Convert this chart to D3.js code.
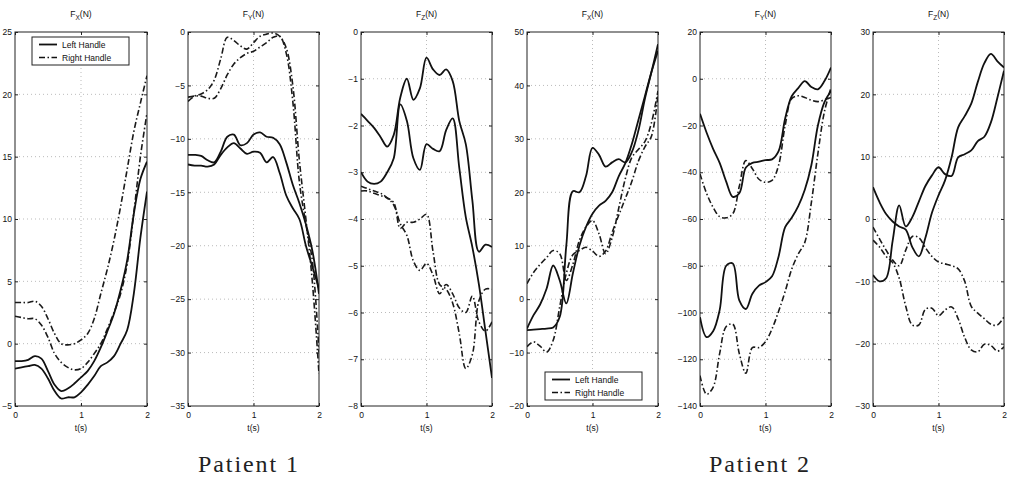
<!DOCTYPE html>
<html>
<head>
  <script src="https://d3js.org/d3.v7.min.js"></script>
  <style>
    body { margin: 0; background: #fff; }
    text { font-family: "Liberation Sans", Arial, sans-serif; fill: #111; }
    .frame { fill: none; stroke: #222; stroke-width: 1; }
    .patient { font-family: "Liberation Serif", "DejaVu Serif", serif; font-size: 24px; fill: #222; }
  </style>
</head>
<body>
<svg id="chart" width="1011" height="477"></svg>
<script>
  // time axis shared by every curve (s)
  var tGrid = [0,0.1,0.2,0.3,0.4,0.5,0.6,0.7,0.8,0.9,1.0,1.1,1.2,1.3,1.4,1.5,1.6,1.7,1.8,1.9,2.0];
  var xTicks = [0, 1, 2];
  var seriesNames = ["Left Handle", "Right Handle"];
  var panelTitles = ["X", "Y", "Z", "X", "Y", "Z"];
  var patientLabels = ["Patient 1", "Patient 2"];

  // Patient 1, Fx
  var p1FxLeftA  = [-1.4,-1.4,-1.3,-1.0,-1.2,-2.2,-3.3,-3.8,-3.6,-3.2,-2.7,-2.2,-1.4,-0.3,1.0,2.4,4.3,6.7,10.4,13.2,14.6];
  var p1FxLeftB  = [-2.0,-1.9,-1.8,-1.7,-2.0,-2.8,-3.8,-4.4,-4.3,-4.3,-3.9,-3.3,-2.6,-1.8,-1.5,-1.0,0.0,1.1,4.0,8.5,12.2];
  var p1FxRightA = [3.3,3.3,3.3,3.4,3.0,2.0,0.8,0.0,-0.1,0.0,0.3,0.8,2.0,4.0,6.0,8.3,11.0,14.0,17.0,19.3,21.5];
  var p1FxRightB = [2.2,2.1,2.0,2.0,1.5,0.5,-0.8,-1.5,-1.9,-2.1,-2.0,-1.5,-0.8,0.0,1.2,2.5,4.0,6.4,10.5,15.0,18.5];
  // Patient 1, Fy
  var p1FyLeftA  = [-11.5,-11.5,-11.6,-12.0,-12.2,-11.2,-9.8,-9.6,-10.6,-10.4,-9.6,-9.4,-9.8,-9.9,-10.5,-12.2,-14.3,-16.0,-18.0,-20.5,-24.5];
  var p1FyLeftB  = [-12.4,-12.5,-12.5,-12.6,-12.4,-11.5,-10.8,-10.4,-10.9,-11.4,-11.2,-11.3,-12.2,-11.7,-13.2,-15.3,-16.5,-17.5,-20.0,-22.0,-24.0];
  var p1FyRightA = [-6.5,-6.0,-5.8,-5.4,-4.5,-2.5,-0.5,-0.8,-1.3,-1.6,-1.0,-0.4,-0.2,-0.1,-0.4,-1.5,-5.0,-12.0,-17.5,-23.5,-32.0];
  var p1FyRightB = [-6.1,-6.0,-6.0,-6.2,-6.2,-5.3,-4.0,-3.0,-2.4,-2.0,-1.8,-1.4,-1.0,-0.5,-0.4,-2.0,-6.5,-14.0,-18.0,-21.5,-30.0];
  // Patient 1, Fz
  var p1FzLeftA  = [-1.75,-1.9,-2.05,-2.25,-2.45,-2.2,-1.4,-1.0,-1.45,-1.2,-0.55,-0.8,-0.92,-0.8,-1.05,-1.9,-2.4,-3.6,-4.7,-4.55,-4.6];
  var p1FzLeftB  = [-3.0,-3.2,-3.25,-3.2,-3.0,-2.7,-1.55,-1.9,-2.7,-2.95,-2.4,-2.5,-2.55,-2.1,-1.85,-2.9,-3.96,-4.6,-5.4,-6.4,-7.4];
  var p1FzRightA = [-3.4,-3.4,-3.45,-3.5,-3.55,-3.65,-4.2,-4.07,-4.07,-4.0,-3.9,-4.7,-5.4,-5.5,-5.8,-6.45,-7.2,-6.9,-5.75,-5.5,-5.5];
  var p1FzRightB = [-3.3,-3.35,-3.4,-3.45,-3.55,-3.7,-4.1,-4.35,-4.9,-5.1,-4.95,-5.2,-5.6,-5.4,-5.6,-5.9,-6.0,-5.65,-6.2,-6.4,-6.2];
  // Patient 2, Fx
  var p2FxLeftA  = [-5.8,-5.7,-5.6,-5.5,-5.3,-3.3,10.0,20.2,20.0,23.0,28.3,27.0,24.8,25.6,26.2,25.6,27.5,31.5,37.5,42.5,47.7];
  var p2FxLeftB  = [-5.5,-3.0,-1.0,2.0,6.3,3.5,-0.8,4.8,10.0,13.5,16.0,17.5,18.4,20.0,23.0,25.4,29.0,33.5,38.0,42.5,46.5];
  var p2FxRightA = [2.9,5.0,6.5,7.8,9.1,8.5,3.5,6.5,11.0,13.5,14.7,12.2,8.5,11.5,17.0,22.5,26.5,28.0,29.5,33.0,39.0];
  var p2FxRightB = [-8.9,-8.0,-8.8,-9.9,-7.7,-1.4,4.8,8.3,9.1,9.7,9.0,8.0,9.0,12.5,15.7,18.8,22.0,25.8,28.5,30.5,38.4];
  // Patient 2, Fy
  var p2FyLeftA  = [-15,-23,-30,-36,-44,-50.5,-49,-38,-36,-35.5,-34.8,-34.5,-31,-17,-7.5,-4,-1,-3.5,-4.5,-1,4.8];
  var p2FyLeftB  = [-102,-110.5,-108,-99,-80,-79,-94.8,-98.5,-92,-88.5,-87,-84.5,-76,-63.5,-59.5,-54.5,-47.5,-37,-20,-10,-5.2];
  var p2FyRightA = [-40.7,-49,-55,-59,-59.5,-57.8,-46,-35,-38.5,-43,-44.3,-43.5,-37,-20,-8.5,-7.3,-8,-9.2,-9.8,-9,-8];
  var p2FyRightB = [-127,-135,-132,-117.6,-106,-105,-117.6,-126,-115,-115,-112.5,-107,-99.5,-91,-81.5,-75,-70,-53,-32,-14,-3.8];
  // Patient 2, Fz
  var p2FzLeftA  = [5.1,2.7,0.8,-0.4,-1.2,-1.7,-4.5,-6.0,-3.0,1.0,3.8,6.2,9.9,14.7,16.5,18.5,22.0,25.0,26.5,25.3,24.3];
  var p2FzLeftB  = [-9.0,-10.0,-9.5,-3.5,2.2,-1.2,0.3,2.8,5.3,7.0,8.3,7.2,6.9,9.9,10.4,11.0,12.5,13.2,15.5,19.5,23.8];
  var p2FzRightA = [-1.3,-3.2,-5.0,-6.6,-7.5,-5.0,-2.8,-3.0,-4.6,-6.0,-6.9,-7.2,-7.5,-8.0,-10.0,-14.0,-15.1,-16.0,-16.9,-17.0,-15.7];
  var p2FzRightB = [-3.4,-4.5,-6.0,-7.0,-9.5,-14.0,-17.0,-17.0,-14.5,-14.3,-15.5,-14.6,-14.1,-16.0,-19.0,-21.0,-21.3,-20.1,-20.3,-21.2,-20.5];

  // y ranges and ticks per panel
  var yDomains = [[-5, 25], [-35, 0], [-8, 0], [-20, 50], [-140, 20], [-30, 30]];
  var yTickSteps = [5, 5, 1, 10, 20, 10];

  var panels = [
    { left: [p1FxLeftA, p1FxLeftB], right: [p1FxRightA, p1FxRightB], x0: 15,  x1: 147, legend: [32, 37] },
    { left: [p1FyLeftA, p1FyLeftB], right: [p1FyRightA, p1FyRightB], x0: 188, x1: 319 },
    { left: [p1FzLeftA, p1FzLeftB], right: [p1FzRightA, p1FzRightB], x0: 361, x1: 492 },
    { left: [p2FxLeftA, p2FxLeftB], right: [p2FxRightA, p2FxRightB], x0: 527, x1: 658, legend: [545, 372] },
    { left: [p2FyLeftA, p2FyLeftB], right: [p2FyRightA, p2FyRightB], x0: 700, x1: 831 },
    { left: [p2FzLeftA, p2FzLeftB], right: [p2FzRightA, p2FzRightB], x0: 873, x1: 1004 }
  ];

  var plotTop = 32, plotBottom = 406;
  var svg = d3.select("#chart");
  var solidStyle = { width: 1.8, dash: null };
  var dashStyle = { width: 1.6, dash: "6,2.5,1.5,2.5" };

  panels.forEach(function(p, i) {
    var x = d3.scaleLinear().domain([0, 2]).range([p.x0, p.x1]);
    var y = d3.scaleLinear().domain(yDomains[i]).range([plotBottom, plotTop]);
    var yTicks = d3.range(yDomains[i][0], yDomains[i][1] + 0.001, yTickSteps[i]);
    var w = p.x1 - p.x0, h = plotBottom - plotTop;
    var g = svg.append("g");

    // dotted grid
    g.selectAll(".gx").data(xTicks.slice(1, -1)).enter().append("line")
      .attr("x1", x).attr("x2", x).attr("y1", plotTop).attr("y2", plotBottom)
      .attr("stroke", "#aaa").attr("stroke-width", 0.8).attr("stroke-dasharray", "1,3");
    g.selectAll(".gy").data(yTicks.slice(1, -1)).enter().append("line")
      .attr("x1", p.x0).attr("x2", p.x1).attr("y1", y).attr("y2", y)
      .attr("stroke", "#aaa").attr("stroke-width", 0.8).attr("stroke-dasharray", "1,3");

    // axes with inward ticks, MATLAB style
    var fmt = function(d) { return String(d).replace("-", "\u2212"); };
    g.append("g").attr("transform", "translate(0," + plotBottom + ")")
      .call(d3.axisBottom(x).tickValues(xTicks).tickSizeInner(-3).tickSizeOuter(0).tickPadding(6).tickFormat(d3.format("d")));
    g.append("g").attr("transform", "translate(" + p.x0 + ",0)")
      .call(d3.axisLeft(y).tickValues(yTicks).tickSizeInner(-3).tickSizeOuter(0).tickPadding(3).tickFormat(fmt));
    g.append("g").attr("transform", "translate(0," + plotTop + ")")
      .call(d3.axisTop(x).tickValues(xTicks).tickSizeInner(-3).tickSizeOuter(0).tickFormat(""));
    g.append("g").attr("transform", "translate(" + p.x1 + ",0)")
      .call(d3.axisRight(y).tickValues(yTicks).tickSizeInner(-3).tickSizeOuter(0).tickFormat(""));
    g.selectAll(".domain").remove();
    g.selectAll(".tick line").attr("stroke", "#222");
    g.selectAll(".tick text").style("font-size", "8.5px").attr("fill", "#111");

    g.append("rect").attr("class", "frame")
      .attr("x", p.x0).attr("y", plotTop).attr("width", w).attr("height", h);

    var line = d3.line()
      .x(function(d, k) { return x(tGrid[k]); })
      .y(function(d) { return y(d); })
      .curve(d3.curveCatmullRom.alpha(0.5));

    var clipId = "clip" + i;
    g.append("clipPath").attr("id", clipId).append("rect")
      .attr("x", p.x0).attr("y", plotTop).attr("width", w).attr("height", h);
    var lines = g.append("g").attr("clip-path", "url(#" + clipId + ")");

    p.right.forEach(function(vals) {
      lines.append("path").attr("d", line(vals)).attr("fill", "none")
        .attr("stroke", "#1a1a1a").attr("stroke-width", dashStyle.width)
        .attr("stroke-dasharray", dashStyle.dash);
    });
    p.left.forEach(function(vals) {
      lines.append("path").attr("d", line(vals)).attr("fill", "none")
        .attr("stroke", "#111").attr("stroke-width", solidStyle.width);
    });

    // title F_x(N)
    var title = g.append("text").attr("x", (p.x0 + p.x1) / 2).attr("y", 17)
      .attr("text-anchor", "middle").style("font-size", "8.5px");
    title.append("tspan").text("F");
    title.append("tspan").attr("dy", 3).style("font-size", "6.5px").text(panelTitles[i]);
    title.append("tspan").attr("dy", -3).text("(N)");

    g.append("text").attr("x", (p.x0 + p.x1) / 2).attr("y", 431)
      .attr("text-anchor", "middle").style("font-size", "8.5px").text("t(s)");

    if (p.legend) {
      var lx = p.legend[0], ly = p.legend[1];
      var lg = g.append("g").attr("transform", "translate(" + lx + "," + ly + ")");
      lg.append("rect").attr("width", 97).attr("height", 28)
        .attr("fill", "#fff").attr("stroke", "#222").attr("stroke-width", 1);
      seriesNames.forEach(function(name, k) {
        var yy = 7.5 + k * 13;
        lg.append("line").attr("x1", 7).attr("x2", 25).attr("y1", yy).attr("y2", yy)
          .attr("stroke", "#111").attr("stroke-width", k ? dashStyle.width : solidStyle.width)
          .attr("stroke-dasharray", k ? dashStyle.dash : null);
        lg.append("text").attr("x", 30).attr("y", yy + 3).style("font-size", "8.5px").text(name);
      });
    }
  });

  var patientX = [248, 759];
  svg.selectAll(".patient").data(patientLabels).enter().append("text")
    .attr("class", "patient").attr("x", function(d, i) { return patientX[i]; })
    .attr("y", 472).attr("text-anchor", "middle")
    .attr("textLength", 100).attr("lengthAdjust", "spacing")
    .text(function(d) { return d; });
</script>
</body>
</html>
